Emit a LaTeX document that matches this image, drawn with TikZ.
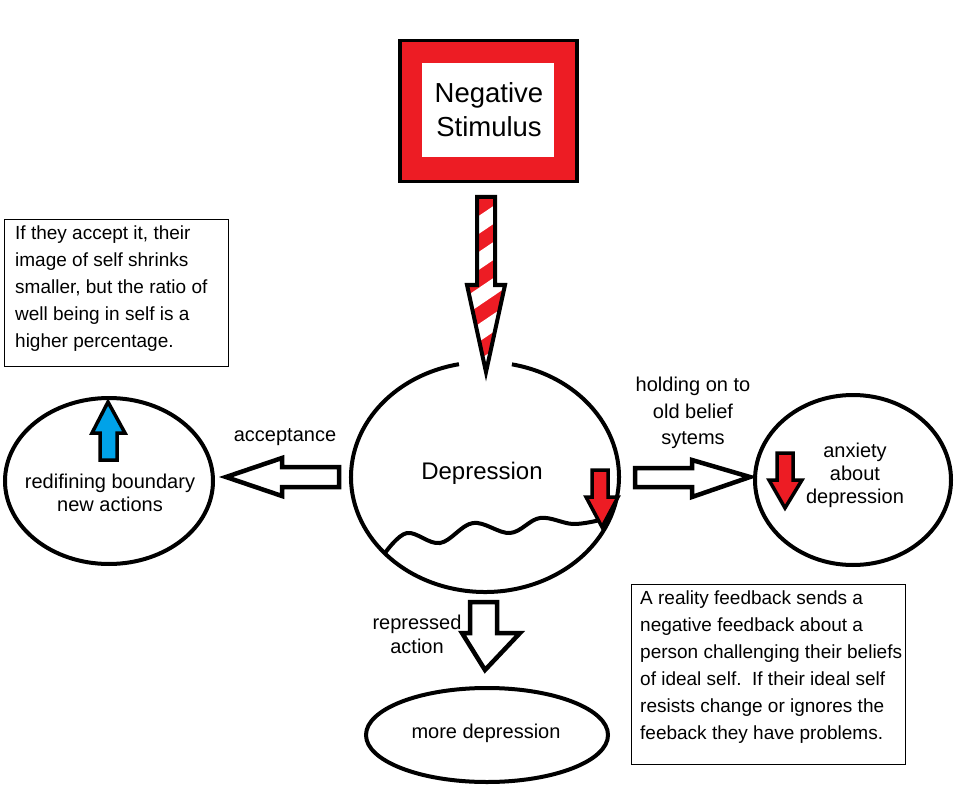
\documentclass[tikz,border=0pt]{standalone}
\usepackage{fontspec}
\setmainfont{Liberation Sans}
\usetikzlibrary{shapes.geometric}
\definecolor{pred}{HTML}{ED1C24}
\definecolor{pblue}{HTML}{00A2E8}
\begin{document}
\begin{tikzpicture}[x=1pt,y=-1pt,
  bigline/.style={line width=4pt, line join=miter},
  oval/.style={ellipse, draw, line width=4pt, inner sep=0pt, outer sep=0pt},
  hollow/.style={draw, fill=white, line width=4.5pt, line join=miter},
  mini/.style={draw, line width=3.5pt, line join=miter},
  lbl/.style={font=\fontsize{20}{24}\selectfont, align=center, inner sep=0pt},
  notetext/.style={font=\fontsize{19}{27}\selectfont, align=left, inner sep=0pt, anchor=north west},
  noteframe/.style={draw, line width=1pt, inner sep=0pt},
]
\useasboundingbox (0,0) rectangle (974,810);

% Negative stimulus box
\node[draw, line width=3.5pt, fill=pred, minimum width=177, minimum height=141, inner sep=0pt] (negbox) at (488.5,111) {};
\node[fill=white, minimum width=132, minimum height=94, inner sep=0pt] (neginner) at (488,110.5) {};
\node[font=\fontsize{27.5}{34}\selectfont, align=center, inner sep=0pt] (negtext) at (489,110) {Negative\\Stimulus};

% striped arrow
\begin{scope}
  \clip (477,197) -- (495,197) -- (495,285) -- (505,285) -- (486,372) -- (467,285) -- (477,285) -- cycle;
  \fill[pred] (460,190) rectangle (515,380);
  \foreach \k in {0,...,5} {
    \fill[white] (455,{232+36*\k}) -- (520,{188+36*\k}) -- (520,{206+36*\k}) -- (455,{250+36*\k}) -- cycle;
  }
\end{scope}
\draw[line width=4pt, line join=miter] (477,197) -- (495,197) -- (495,285) -- (505,285) -- (486,372) -- (467,285) -- (477,285) -- cycle;

% Depression ellipse (open at the top)
\coordinate (dep) at (485,477);
\draw[bigline] (dep) ++(-78.4:134 and 115) arc[start angle=-78.4, end angle=258.8, x radius=134, y radius=115];
\node[font=\fontsize{24}{28}\selectfont, inner sep=0pt] (deptext) at (482,473) {Depression};
\draw[line width=4pt] plot[smooth, tension=0.6] coordinates {(385,553) (407,533) (440,543) (473,523) (510,533) (540,518) (573,524) (600,520)};
\draw[mini, fill=pred] (592,470) -- (608,470) -- (608,497) -- (618,497) -- (602,527) -- (586,497) -- (592,497) -- cycle;

% left ellipse
\node[oval, minimum width=208, minimum height=166] (left) at (109,481) {};
\node[lbl, font=\fontsize{20}{23}\selectfont] (lefttext) at (110,493) {redifining boundary\\new actions};
\draw[mini, fill=pblue] (100,460) -- (117,460) -- (117,433) -- (125,433) -- (108,402) -- (92,433) -- (100,433) -- cycle;

% right ellipse
\node[oval, minimum width=196, minimum height=170] (right) at (853,480) {};
\node[lbl, font=\fontsize{20}{23}\selectfont] (righttext) at (855,475) {anxiety\\about\\depression};
\draw[mini, fill=pred] (777,453) -- (793,453) -- (793,480) -- (802,480) -- (785,508) -- (769,480) -- (777,480) -- cycle;

% bottom ellipse
\node[oval, minimum width=242, minimum height=94] (bottom) at (487,735) {};
\node[lbl] (bottomtext) at (486,733) {more depression};

% hollow arrows
\draw[hollow] (339,467) -- (339,487) -- (282,487) -- (282,496) -- (226,477) -- (282,458) -- (282,467) -- cycle;
\draw[hollow] (635,468) -- (692,468) -- (692,460) -- (750,477) -- (692,497) -- (692,487) -- (635,487) -- cycle;
\draw[hollow] (470,602) -- (497,602) -- (497,633) -- (520,633) -- (485,670) -- (462,633) -- (470,633) -- cycle;

% arrow labels
\node[lbl] (acc) at (285,437) {acceptance};
\node[lbl, font=\fontsize{20}{26.5}\selectfont] (hold) at (693,413) {holding on to\\old belief\\sytems};
\node[lbl] (rep) at (417,634) {repressed\\action};

% note boxes
\node[noteframe, minimum width=224, minimum height=146] (note1) at (116,293) {};
\node[notetext] (note1text) at (15,226) {If they accept it, their\\image of self shrinks\\smaller, but the ratio of\\well being in self is a\\higher percentage.};
\node[noteframe, minimum width=274, minimum height=180] (note2) at (768,674) {};
\node[notetext] (note2text) at (640,591) {A reality feedback sends a\\negative feedback about a\\person challenging their beliefs\\of ideal self.\ \ If their ideal self\\resists change or ignores the\\feeback they have problems.};
\end{tikzpicture}
\end{document}
